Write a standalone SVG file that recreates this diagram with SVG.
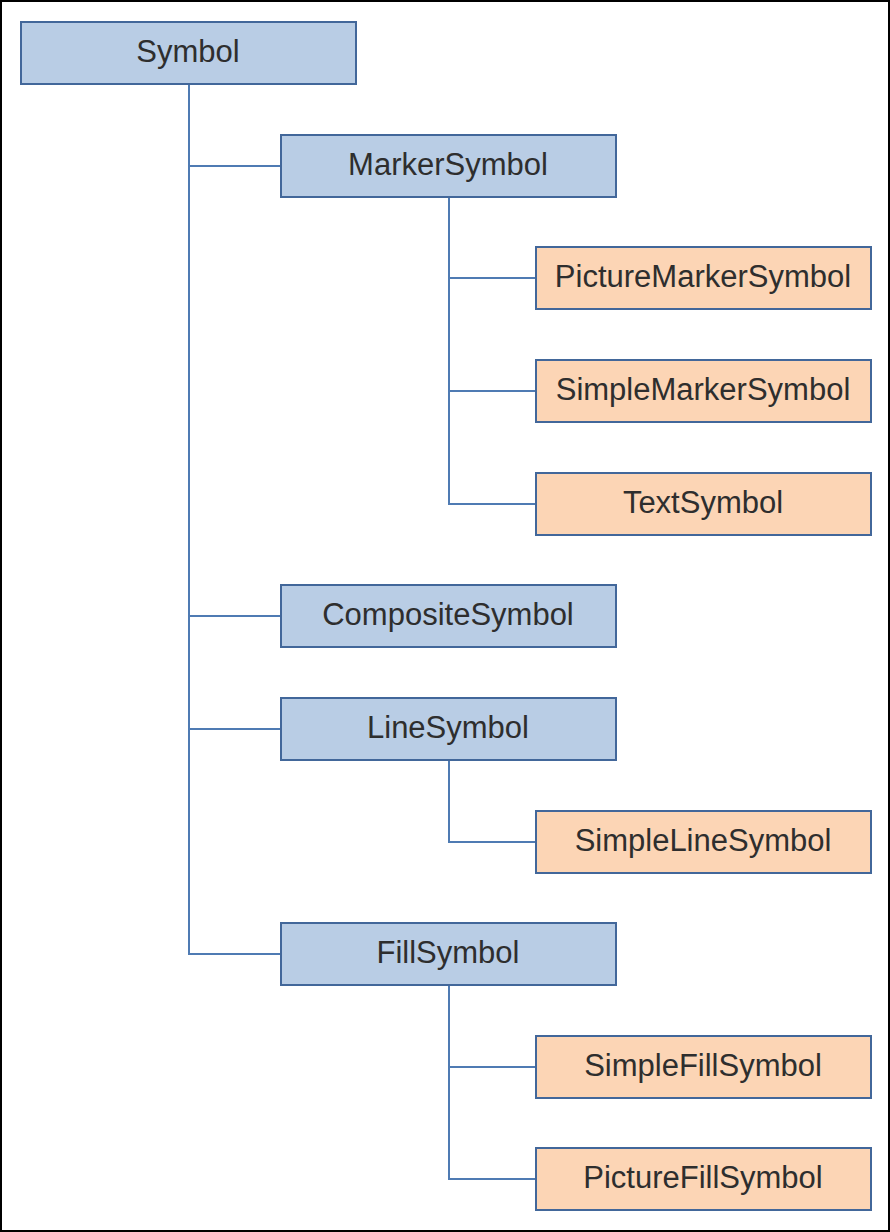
<svg xmlns="http://www.w3.org/2000/svg" width="890" height="1232" viewBox="0 0 890 1232">
<style>
.b rect{fill:#b9cde5;stroke:#42679a;stroke-width:2}
.o rect{fill:#fcd5b5;stroke:#42679a;stroke-width:2}
text{font-family:"Liberation Sans",Arial,sans-serif;font-size:31px;fill:#2e2e2e;text-anchor:middle}
#connectors path{fill:none;stroke:#4f7bb3;stroke-width:2}
</style>
<rect x="1" y="1" width="888" height="1230" fill="#fff" stroke="#000" stroke-width="2"/>
<g id="connectors">
<path d="M189 84V954H281M189 166H281M189 616H281M189 729H281"/>
<path d="M449 196V504H536M449 278H536M449 391H536"/>
<path d="M449 760V842H536"/>
<path d="M449 985V1179H536M449 1067H536"/>
</g>
<g id="symbol" class="b"><rect x="21" y="22" width="335" height="62"/><text x="188" y="62">Symbol</text></g>
<g id="markerSymbol" class="b"><rect x="281" y="135" width="335" height="62"/><text x="448" y="175">MarkerSymbol</text></g>
<g id="pictureMarkerSymbol" class="o"><rect x="536" y="247" width="335" height="62"/><text x="703" y="287">PictureMarkerSymbol</text></g>
<g id="simpleMarkerSymbol" class="o"><rect x="536" y="360" width="335" height="62"/><text x="703" y="400">SimpleMarkerSymbol</text></g>
<g id="textSymbol" class="o"><rect x="536" y="473" width="335" height="62"/><text x="703" y="513">TextSymbol</text></g>
<g id="compositeSymbol" class="b"><rect x="281" y="585" width="335" height="62"/><text x="448" y="625">CompositeSymbol</text></g>
<g id="lineSymbol" class="b"><rect x="281" y="698" width="335" height="62"/><text x="448" y="738">LineSymbol</text></g>
<g id="simpleLineSymbol" class="o"><rect x="536" y="811" width="335" height="62"/><text x="703" y="851">SimpleLineSymbol</text></g>
<g id="fillSymbol" class="b"><rect x="281" y="923" width="335" height="62"/><text x="448" y="963">FillSymbol</text></g>
<g id="simpleFillSymbol" class="o"><rect x="536" y="1036" width="335" height="62"/><text x="703" y="1076">SimpleFillSymbol</text></g>
<g id="pictureFillSymbol" class="o"><rect x="536" y="1148" width="335" height="62"/><text x="703" y="1188">PictureFillSymbol</text></g>
</svg>
